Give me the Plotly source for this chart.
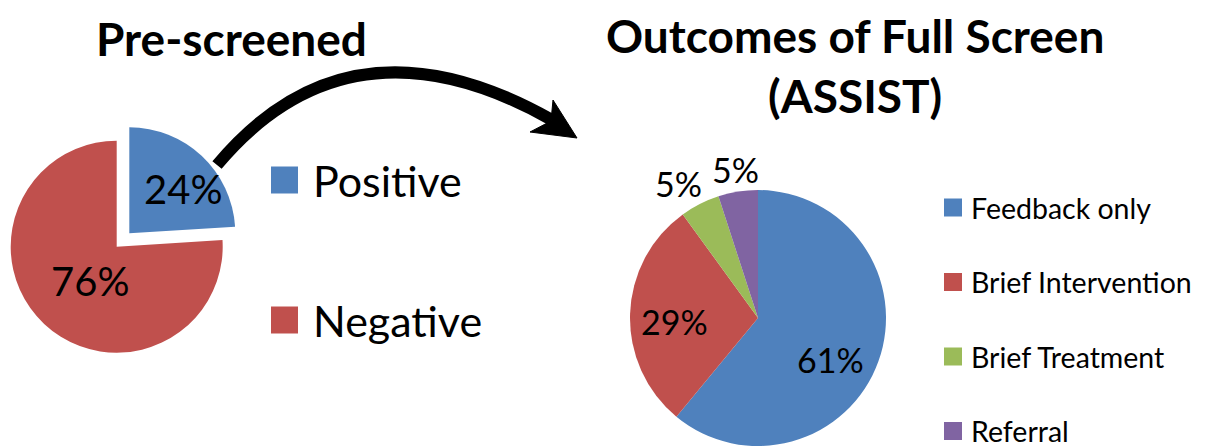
import plotly.graph_objects as go

W, H = 1206, 447
OFF = 8  # page body margin of the rendered html

# ---- data ----
pre_labels = ["Positive", "Negative"]
pre_values = [24, 76]
pre_colors = ["#4F81BD", "#C0504D"]

full_labels = ["Feedback only", "Brief Intervention", "Brief Treatment", "Referral"]
full_values = [61, 29, 5, 5]
full_colors = ["#4F81BD", "#C0504D", "#9BBB59", "#8064A2"]

title_left = "Pre-screened"
title_right = "Outcomes of Full Screen<br>(ASSIST)"

FONT = "Lato"

# label anchor spots (pixels) for the percentage labels
pre_label_pos = [(183, 189), (90, 281)]
full_label_pos = [(830, 359), (674, 321), (678, 183), (735, 170)]


def X(px):
    return (px - OFF) / W


def Y(py):
    return 1 - (py - OFF) / H


def dom(cx, cy, r):
    return dict(x=[X(cx - r), X(cx + r)], y=[Y(cy + r), Y(cy - r)])


fig = go.Figure()

# main (negative) body of the left pie
fig.add_trace(go.Pie(
    labels=pre_labels, values=pre_values, sort=False, direction="clockwise",
    rotation=0, domain=dom(116.7, 246.7, 106),
    marker=dict(colors=["rgba(0,0,0,0)", pre_colors[1]], line=dict(width=0)),
    textinfo="none", showlegend=False, hoverinfo="skip",
))
# exploded (positive) slice of the left pie
fig.add_trace(go.Pie(
    labels=pre_labels, values=pre_values, sort=False, direction="clockwise",
    rotation=0, domain=dom(129.3, 233.3, 106),
    marker=dict(colors=[pre_colors[0], "rgba(0,0,0,0)"], line=dict(width=0)),
    textinfo="none", showlegend=False, hoverinfo="skip",
))
# right pie
fig.add_trace(go.Pie(
    labels=full_labels, values=full_values, sort=False, direction="clockwise",
    rotation=0, domain=dom(758, 318, 128),
    marker=dict(colors=full_colors, line=dict(width=0)),
    textinfo="none", showlegend=False, hoverinfo="skip",
))

shapes = []
annotations = []

# percentage labels
tot = sum(pre_values)
for v, (px, py) in zip(pre_values, pre_label_pos):
    annotations.append(dict(text=f"{round(100 * v / tot)}%", xref="paper", yref="paper",
                            x=X(px), y=Y(py), xanchor="center", yanchor="middle",
                            showarrow=False, font=dict(family=FONT, size=40, color="black")))
tot = sum(full_values)
for v, (px, py) in zip(full_values, full_label_pos):
    annotations.append(dict(text=f"{round(100 * v / tot)}%", xref="paper", yref="paper",
                            x=X(px), y=Y(py), xanchor="center", yanchor="middle",
                            showarrow=False, font=dict(family=FONT, size=34, color="black")))

# left legend
for i, (lab, col) in enumerate(zip(pre_labels, pre_colors)):
    yc = 180 + i * 140
    shapes.append(dict(type="rect", xref="paper", yref="paper",
                       x0=X(271), x1=X(298), y0=Y(yc + 13.5), y1=Y(yc - 13.5),
                       fillcolor=col, line=dict(width=0)))
    annotations.append(dict(text=lab, xref="paper", yref="paper", x=X(311), y=Y(yc),
                            xanchor="left", yanchor="middle", showarrow=False,
                            font=dict(family=FONT, size=43, color="black")))

# right legend
for i, (lab, col) in enumerate(zip(full_labels, full_colors)):
    yc = 207.5 + i * 74.5
    shapes.append(dict(type="rect", xref="paper", yref="paper",
                       x0=X(944), x1=X(962), y0=Y(yc + 9), y1=Y(yc - 9),
                       fillcolor=col, line=dict(width=0)))
    annotations.append(dict(text=lab, xref="paper", yref="paper", x=X(969), y=Y(yc),
                            xanchor="left", yanchor="middle", showarrow=False,
                            font=dict(family=FONT, size=28.5, color="black")))

# titles
annotations.append(dict(text=f"<b>{title_left}</b>", xref="paper", yref="paper",
                        x=X(231), y=Y(38), xanchor="center", yanchor="middle",
                        showarrow=False, font=dict(family=FONT, size=46, color="black")))
annotations.append(dict(text=f"<b>{title_right}</b>", xref="paper", yref="paper",
                        x=X(855), y=Y(65), xanchor="center", yanchor="middle",
                        showarrow=False, font=dict(family=FONT, size=46, color="black")))

# curved arrow
shaft = f"M {X(217)},{Y(165)} Q {X(350)},{Y(6)} {X(552)},{Y(120)}"
shapes.append(dict(type="path", xref="paper", yref="paper", path=shaft,
                   line=dict(color="black", width=12), fillcolor="rgba(0,0,0,0)"))
head = (f"M {X(553)},{Y(100)} L {X(577)},{Y(138)} L {X(530)},{Y(132)} "
        f"L {X(551)},{Y(121)} Z")
shapes.append(dict(type="path", xref="paper", yref="paper", path=head,
                   line=dict(color="black", width=1), fillcolor="black"))

fig.update_layout(
    width=W, height=H, margin=dict(l=0, r=0, t=0, b=0),
    paper_bgcolor="white", plot_bgcolor="white",
    shapes=shapes, annotations=annotations, showlegend=False,
    font=dict(family=FONT),
)

fig.write_html("out.html")
